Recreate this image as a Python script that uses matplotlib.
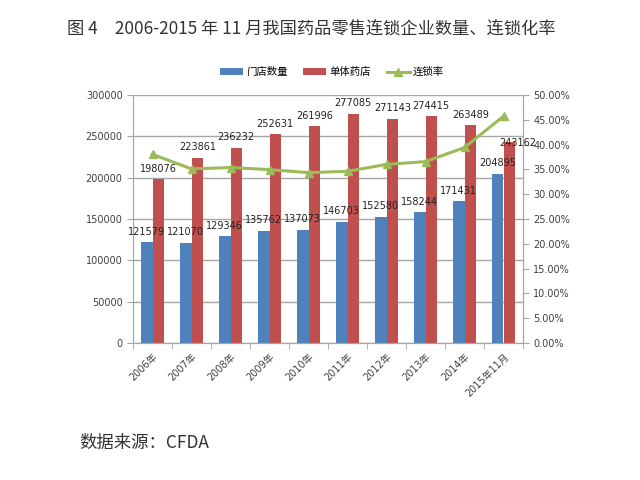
import matplotlib
matplotlib.use("Agg")
import matplotlib.pyplot as plt
import numpy as np
from matplotlib.ticker import FuncFormatter, FixedLocator

plt.rcParams['font.family'] = ['DejaVu Sans', 'Noto Sans CJK SC']
CJK = ['Noto Sans CJK SC', 'DejaVu Sans']

categories = ["2006年", "2007年", "2008年", "2009年", "2010年", "2011年",
              "2012年", "2013年", "2014年", "2015年11月"]
chain_stores = [121579, 121070, 129346, 135762, 137073, 146703, 152580, 158244, 171431, 204895]
single_stores = [198076, 223861, 236232, 252631, 261996, 277085, 271143, 274415, 263489, 243162]
chain_rate = [0.3803, 0.3510, 0.3538, 0.3495, 0.3435, 0.3462, 0.3601, 0.3657, 0.3942, 0.4573]
series_names = ["门店数量", "单体药店", "连锁率"]

BLUE = "#4F81BD"
RED = "#C0504D"
GREEN = "#9BBB59"
GRID = "#A6A6A6"
TXT = "#404040"

fig = plt.figure(figsize=(6.4, 4.8), dpi=100)
ax = fig.add_axes([133/640, 1-343/480, 390/640, 248/480])
ax2 = ax.twinx()

x = np.arange(len(categories))
w = 0.295
b1 = ax.bar(x - w/2, chain_stores, w, color=BLUE, zorder=2, label=series_names[0])
b2 = ax.bar(x + w/2, single_stores, w, color=RED, zorder=2, label=series_names[1])
l1, = ax2.plot(x, chain_rate, color=GREEN, lw=2.2, marker='^', ms=6, zorder=3, label=series_names[2])

for xi, v in zip(x, chain_stores):
    ax2.annotate(str(v), (xi - w/2, v / 300000 * 0.5), xytext=(0, 4), textcoords='offset points',
                 ha='center', va='bottom', fontsize=7, color='#222222', zorder=5)
n = len(single_stores)
for i, (xi, v) in enumerate(zip(x, single_stores)):
    off = (6, -4) if i == n - 1 else (0, 4)
    ax2.annotate(str(v), (xi + w/2, v / 300000 * 0.5), xytext=off, textcoords='offset points',
                 ha='center', va='bottom', fontsize=7, color='#222222', zorder=5)

ax.set_xlim(-0.5, len(categories) - 0.5)
ax.set_ylim(0, 300000)
ax.set_yticks(np.arange(0, 300001, 50000))
ax2.set_ylim(0, 0.5)
ax2.set_yticks(np.arange(0, 0.5001, 0.05))
ax2.yaxis.set_major_formatter(FuncFormatter(lambda v, p: f"{v*100:.2f}%"))

ax.set_xticks(x)
ax.set_xticklabels(categories, rotation=45, ha='right', rotation_mode='anchor',
                   fontsize=7, color=TXT)
ax.tick_params(axis='x', length=0, pad=6)
ax.xaxis.set_minor_locator(FixedLocator(np.arange(-0.5, len(categories), 1)))
ax.tick_params(axis='x', which='minor', length=4, color=GRID)
ax.tick_params(axis='y', labelsize=7, colors=TXT, length=4, color=GRID)
ax2.tick_params(axis='y', labelsize=7, colors=TXT, length=4, color=GRID)
for lab in ax.get_yticklabels() + ax2.get_yticklabels():
    lab.set_color(TXT)

ax.yaxis.grid(True, color=GRID, lw=1, zorder=0)
ax.set_axisbelow(True)
for a in (ax, ax2):
    a.spines['top'].set_visible(False)
    for s in ('left', 'right', 'bottom'):
        a.spines[s].set_color(GRID)

fig.legend(handles=[b1, b2, l1], loc='center', bbox_to_anchor=(332/640, 1-72/480),
           ncol=3, frameon=False, prop={'family': CJK, 'size': 7.5},
           handlelength=2.2, handleheight=0.6, columnspacing=1.5, handletextpad=0.3)

fig.text(67/640, 1-30/480, "图 4　2006-2015 年 11 月我国药品零售连锁企业数量、连锁化率",
         fontsize=12.4, family=CJK, ha='left', va='center', color='#333333')
fig.text(79/640, 1-443/480, "数据来源：CFDA", fontsize=12.5, family=CJK,
         ha='left', va='center', color='#333333')

fig.savefig("out.png", dpi=100)
